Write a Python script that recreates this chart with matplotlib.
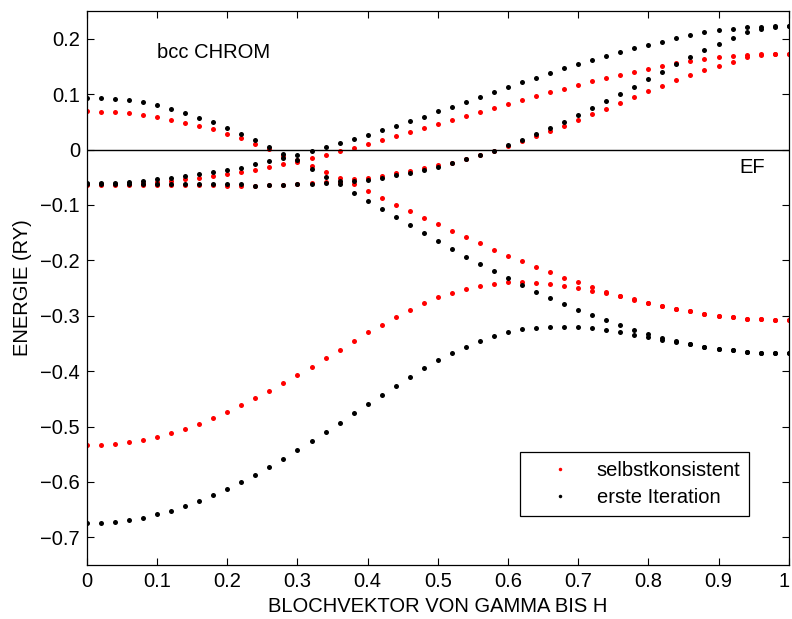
import numpy as np
import matplotlib
matplotlib.use("Agg")
import matplotlib.pyplot as plt
from matplotlib.transforms import ScaledTranslation

plt.rcParams["font.family"] = ["Liberation Sans", "DejaVu Sans"]

# k-points along Gamma -> H (51 points, step 0.02)
k = np.round(np.arange(51) * 0.02, 2)

# selbstkonsistent (red)
sk_band1 = [-0.5335, -0.5328, -0.5310, -0.5280, -0.5238, -0.5184, -0.5118, -0.5040, -0.4949, -0.4846,
            -0.4738, -0.4617, -0.4491, -0.4352, -0.4213, -0.4069, -0.3920, -0.3760, -0.3610, -0.3460,
            -0.3300, -0.3160, -0.3026, -0.2893, -0.2773, -0.2670, -0.2586, -0.2514, -0.2460, -0.2423,
            -0.2400, -0.2399, -0.2405, -0.2429, -0.2465, -0.2502, -0.2550, -0.2598, -0.2652, -0.2712,
            -0.2773, -0.2827, -0.2881, -0.2923, -0.2972, -0.3008, -0.3032, -0.3056, -0.3068, -0.3074,
            -0.3080]
sk_band2 = [-0.0640, -0.0640, -0.0640, -0.0640, -0.0640, -0.0640, -0.0645, -0.0645, -0.0645, -0.0645,
            -0.0650, -0.0650, -0.0650, -0.0645, -0.0640, -0.0630, -0.0600, -0.0580, -0.0580, -0.0620,
            -0.0753, -0.0868, -0.0995, -0.1115, -0.1230, -0.1350, -0.1465, -0.1585, -0.1694, -0.1808,
            -0.1917, -0.2019, -0.2122, -0.2218, -0.2315, -0.2400, -0.2490, -0.2567, -0.2646, -0.2707,
            -0.2773, -0.2827, -0.2878, -0.2923, -0.2969, -0.3005, -0.3032, -0.3053, -0.3068, -0.3074,
            -0.3080]
sk_band3 = [-0.0627, -0.0630, -0.0630, -0.0621, -0.0603, -0.0585, -0.0570, -0.0537, -0.0513, -0.0476,
            -0.0446, -0.0404, -0.0362, -0.0307, -0.0255, -0.0220, -0.0295, -0.0404, -0.0520, -0.0536,
            -0.0506, -0.0470, -0.0428, -0.0386, -0.0331, -0.0283, -0.0235, -0.0163, -0.0096, -0.0024,
            0.0066, 0.0157, 0.0241, 0.0331, 0.0428, 0.0530, 0.0633, 0.0735, 0.0838, 0.0946,
            0.1049, 0.1151, 0.1248, 0.1344, 0.1428, 0.1513, 0.1579, 0.1663, 0.1700, 0.1724,
            0.1730]
sk_band4 = [0.0693, 0.0681, 0.0669, 0.0651, 0.0620, 0.0584, 0.0537, 0.0482, 0.0422, 0.0362,
            0.0283, 0.0205, 0.0105, 0.0012, -0.0120, -0.0190, -0.0150, -0.0090, -0.0030, 0.0036,
            0.0102, 0.0168, 0.0241, 0.0313, 0.0385, 0.0458, 0.0530, 0.0602, 0.0675, 0.0747,
            0.0826, 0.0898, 0.0964, 0.1036, 0.1097, 0.1169, 0.1229, 0.1290, 0.1344, 0.1398,
            0.1452, 0.1500, 0.1555, 0.1595, 0.1633, 0.1663, 0.1687, 0.1712, 0.1718, 0.1724,
            0.1730]

# erste Iteration (black)
it_band1 = [-0.6745, -0.6739, -0.6721, -0.6685, -0.6643, -0.6588, -0.6516, -0.6438, -0.6341, -0.6245,
            -0.6124, -0.6004, -0.5871, -0.5732, -0.5582, -0.5431, -0.5268, -0.5100, -0.4937, -0.4762,
            -0.4593, -0.4424, -0.4260, -0.4099, -0.3948, -0.3803, -0.3677, -0.3556, -0.3448, -0.3363,
            -0.3291, -0.3243, -0.3213, -0.3195, -0.3195, -0.3201, -0.3225, -0.3255, -0.3291, -0.3340,
            -0.3382, -0.3430, -0.3472, -0.3514, -0.3556, -0.3593, -0.3622, -0.3647, -0.3664, -0.3676,
            -0.3677]
it_band2 = [-0.0621, -0.0625, -0.0625, -0.0625, -0.0625, -0.0625, -0.0625, -0.0627, -0.0627, -0.0627,
            -0.0627, -0.0630, -0.0650, -0.0645, -0.0640, -0.0627, -0.0620, -0.0610, -0.0630, -0.0778,
            -0.0922, -0.1070, -0.1218, -0.1362, -0.1507, -0.1652, -0.1790, -0.1935, -0.2067, -0.2194,
            -0.2327, -0.2447, -0.2568, -0.2682, -0.2791, -0.2893, -0.2996, -0.3086, -0.3170, -0.3249,
            -0.3321, -0.3394, -0.3448, -0.3514, -0.3556, -0.3593, -0.3622, -0.3647, -0.3664, -0.3676,
            -0.3677]
it_band3 = [-0.0603, -0.0603, -0.0598, -0.0585, -0.0566, -0.0540, -0.0512, -0.0476, -0.0446, -0.0410,
            -0.0368, -0.0331, -0.0265, -0.0211, -0.0157, -0.0193, -0.0350, -0.0488, -0.0560, -0.0567,
            -0.0543, -0.0507, -0.0465, -0.0422, -0.0368, -0.0308, -0.0241, -0.0175, -0.0097, -0.0018,
            0.0078, 0.0174, 0.0277, 0.0385, 0.0500, 0.0620, 0.0741, 0.0874, 0.1000, 0.1133,
            0.1265, 0.1398, 0.1537, 0.1669, 0.1796, 0.1911, 0.2013, 0.2115, 0.2176, 0.2212,
            0.2236]
it_band4 = [0.0934, 0.0934, 0.0916, 0.0892, 0.0850, 0.0795, 0.0735, 0.0657, 0.0572, 0.0488,
            0.0392, 0.0289, 0.0169, 0.0054, -0.0082, -0.0095, -0.0024, 0.0042, 0.0115, 0.0187,
            0.0270, 0.0349, 0.0428, 0.0512, 0.0596, 0.0687, 0.0771, 0.0862, 0.0946, 0.1036,
            0.1127, 0.1217, 0.1296, 0.1380, 0.1464, 0.1543, 0.1615, 0.1687, 0.1760, 0.1826,
            0.1886, 0.1947, 0.2015, 0.2065, 0.2121, 0.2157, 0.2182, 0.2206, 0.2218, 0.2230,
            0.2236]

sk_bands = [sk_band1, sk_band2, sk_band3, sk_band4]
it_bands = [it_band1, it_band2, it_band3, it_band4]

fs = 14.5

fig = plt.figure(figsize=(7.92, 6.19), dpi=100)
ax = fig.add_axes([0.1098, 0.0872, 0.886, 0.895])

ms = 3.6
for i, b in enumerate(sk_bands):
    ax.plot(k, b, "o", color="red", markersize=ms, markeredgewidth=0,
            label="selbstkonsistent" if i == 0 else None)
for i, b in enumerate(it_bands):
    ax.plot(k, b, "o", color="black", markersize=ms, markeredgewidth=0,
            label="erste Iteration" if i == 0 else None)

# Fermi level
ax.axhline(0, color="black", linewidth=1.0)

ax.set_xlim(0, 1)
ax.set_ylim(-0.75, 0.25)
ax.set_xticks(np.arange(0, 1.01, 0.1))
ax.set_xticklabels(["0", "0.1", "0.2", "0.3", "0.4", "0.5", "0.6", "0.7", "0.8", "0.9", "1"])
ax.set_yticks(np.arange(-0.7, 0.21, 0.1))
ax.set_yticklabels(["\u22120.7", "\u22120.6", "\u22120.5", "\u22120.4", "\u22120.3", "\u22120.2",
                    "\u22120.1", "0", "0.1", "0.2"])
ax.tick_params(direction="in", top=True, right=True, length=5, width=0.8, labelsize=fs, pad=5)
for s in ax.spines.values():
    s.set_linewidth(0.9)

# keep the last x tick label inside the figure
last = ax.get_xticklabels()[-1]
last.set_transform(last.get_transform() + ScaledTranslation(-3 / 72, 0, fig.dpi_scale_trans))

ax.set_xlabel("BLOCHVEKTOR VON GAMMA BIS H", fontsize=fs, labelpad=4)
ax.set_ylabel("ENERGIE (RY)", fontsize=fs, labelpad=6)

ax.text(0.1, 0.175, "bcc CHROM", fontsize=fs, va="center", ha="left")
ax.text(0.93, -0.033, "EF", fontsize=fs, va="center", ha="left")

leg = ax.legend(loc="lower right", bbox_to_anchor=(0.944, 0.088), fontsize=fs,
                frameon=True, fancybox=False, edgecolor="black", framealpha=1,
                markerscale=0.7, handlelength=3.1, handletextpad=0.25, borderpad=0.45,
                labelspacing=0.4, borderaxespad=0)
leg.get_frame().set_linewidth(0.9)

plt.savefig("out.png", dpi=100)
